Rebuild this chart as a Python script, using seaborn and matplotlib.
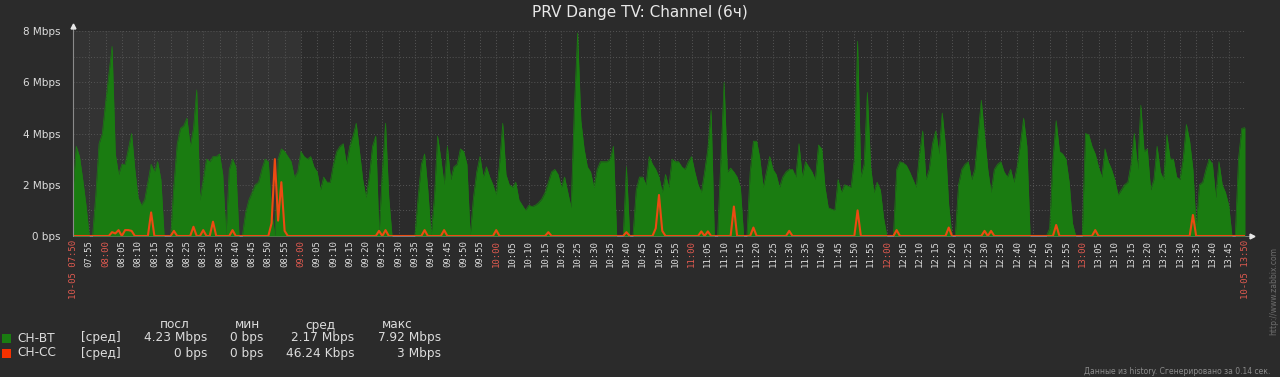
import numpy as np
import pandas as pd
import matplotlib.pyplot as plt
import seaborn as sns

# CH-BT, 1-minute values in Mbps from 07:50 to 13:50 (0 = no data)
bt_0750 = [1.8, 3.5, 3.1, 2.2, 1.2, 0, 0, 1.6, 3.6, 4.0,
           5.2, 6.3, 7.4, 3.2, 2.4, 2.8, 2.8, 3.4, 4.0, 2.6,
           1.5, 1.2, 1.4, 2.1, 2.8, 2.5, 2.9, 2.2, 0, 0,
           0, 2.0, 3.6, 4.2, 4.3, 4.6, 3.5, 4.2, 5.7, 1.4,
           2.2, 3.0, 2.9, 3.1, 3.1, 3.2, 2.4, 0, 2.6, 3.0,
           2.7, 0, 0, 0.9, 1.4, 1.7, 2.0, 2.1, 2.6, 3.0]
bt_0850 = [2.9, 1.0, 0, 3.0, 3.4, 3.3, 3.1, 2.9, 2.3, 2.5,
           3.3, 3.1, 3.0, 3.1, 2.7, 2.5, 1.8, 2.3, 2.1, 2.1,
           2.8, 3.3, 3.5, 3.6, 2.8, 3.5, 3.9, 4.4, 3.3, 2.2,
           1.5, 2.3, 3.5, 3.9, 0, 2.5, 4.4, 1.5, 0, 0,
           0, 0, 0, 0, 0, 0, 1.5, 2.8, 3.2, 1.8,
           0, 1.5, 3.9, 3.0, 2.0, 3.5, 2.2, 2.7, 2.8, 3.4]
bt_0950 = [3.3, 2.8, 0, 1.5, 2.5, 3.1, 2.3, 2.7, 2.3, 2.0,
           1.6, 2.8, 4.4, 2.4, 2.0, 1.9, 2.1, 1.4, 1.2, 1.0,
           1.2, 1.15, 1.2, 1.3, 1.45, 1.7, 2.1, 2.5, 2.6, 2.4,
           1.9, 2.3, 1.7, 1.1, 5.0, 7.92, 4.5, 3.4, 2.7, 2.5,
           1.9, 2.6, 2.9, 2.9, 2.9, 3.0, 3.5, 0, 0, 0,
           2.7, 0, 0, 1.8, 2.3, 2.3, 2.0, 3.1, 2.8, 2.6]
bt_1050 = [2.3, 1.7, 2.4, 1.9, 3.0, 2.9, 2.9, 2.7, 2.6, 2.9,
           3.1, 2.5, 2.0, 1.7, 2.5, 3.4, 4.9, 0, 0, 3.0,
           6.0, 2.5, 2.65, 2.5, 2.3, 1.9, 0, 0, 2.5, 3.7,
           3.7, 3.0, 1.9, 2.5, 3.1, 2.6, 2.4, 1.9, 2.3, 2.5,
           2.6, 2.6, 2.3, 3.6, 2.3, 2.9, 2.7, 2.5, 2.2, 3.55,
           3.4, 1.9, 1.1, 1.05, 1.0, 2.2, 1.7, 2.0, 1.95, 1.9]
bt_1150 = [3.0, 7.6, 2.3, 2.8, 5.6, 2.7, 1.7, 2.1, 1.8, 0.7,
           0, 0, 0, 2.6, 2.9, 2.85, 2.75, 2.5, 2.2, 1.9,
           3.2, 4.1, 2.2, 2.6, 3.6, 4.1, 3.2, 4.8, 3.5, 1.2,
           0, 0, 2.0, 2.6, 2.8, 2.9, 2.2, 2.6, 3.9, 5.3,
           3.9, 2.6, 1.7, 2.6, 2.8, 2.9, 2.5, 2.3, 2.6, 2.1,
           2.7, 3.6, 4.6, 3.5, 0, 0, 0, 0, 0, 0]
bt_1250 = [0.3, 3.0, 4.5, 3.3, 3.2, 3.0, 2.1, 0.5, 0, 0,
           0, 4.0, 3.95, 3.5, 3.2, 2.7, 2.3, 3.4, 2.9, 2.6,
           2.2, 1.6, 1.8, 2.0, 2.1, 2.8, 4.0, 2.6, 5.1, 3.3,
           3.4, 1.8, 2.2, 3.5, 2.5, 2.2, 3.95, 3.0, 3.0, 2.3,
           2.2, 3.0, 4.35, 3.7, 2.6, 0.3, 2.0, 2.1, 2.6, 3.0,
           2.8, 1.5, 2.9, 2.0, 1.7, 1.2, 0, 0, 3.0, 4.2,
           4.23]

# CH-CC is 0 except for these minutes (Mbps)
cc_minutes = [12, 13, 14, 16, 17, 18, 24, 31, 37, 40, 43, 49,
              61, 62, 63, 64, 65, 94, 96, 108, 114, 130, 146, 170,
              179, 180, 181, 193, 195, 203, 209, 220,
              241, 253, 269, 280, 282, 302, 314, 344]
cc_values = [0.15, 0.1, 0.23, 0.23, 0.23, 0.2, 0.92, 0.2, 0.36, 0.23, 0.56, 0.23,
             0.5, 3.0, 0.6, 2.1, 0.2, 0.2, 0.23, 0.23, 0.23, 0.23, 0.15, 0.15,
             0.3, 1.6, 0.2, 0.18, 0.18, 1.15, 0.33, 0.2,
             1.0, 0.23, 0.33, 0.2, 0.2, 0.43, 0.23, 0.82]

# legend table
legend_names = ['CH-BT', 'CH-CC']
legend_colors = ['#1a7c11', '#f63100']
stat_last = ['4.23 Mbps', '0 bps']
stat_min = ['0 bps', '0 bps']
stat_avg = ['2.17 Mbps', '46.24 Kbps']
stat_max = ['7.92 Mbps', '3 Mbps']

ch_bt = bt_0750 + bt_0850 + bt_0950 + bt_1050 + bt_1150 + bt_1250
minutes = np.arange(len(ch_bt))
ch_cc = np.zeros(len(ch_bt))
ch_cc[cc_minutes] = cc_values
df = pd.DataFrame({'minute': minutes, 'CH-BT': ch_bt, 'CH-CC': ch_cc})

times = pd.date_range('2016-10-05 07:50', '2016-10-05 13:50', freq='5min')
tick_pos = [(t - times[0]).seconds // 60 for t in times]
tick_labels = [t.strftime('%H:%M') for t in times]
tick_labels[0] = '10-05 ' + tick_labels[0]
tick_labels[-1] = '10-05 ' + tick_labels[-1]

bg = '#2b2b2b'
txt = '#dcdcdc'
red_txt = '#e05a50'
sns.set_style('dark', {'axes.facecolor': bg, 'figure.facecolor': bg})
plt.rcParams['font.family'] = ['DejaVu Sans']

W, H = 1280, 377
fig = plt.figure(figsize=(W / 100, H / 100), dpi=100)
ax = fig.add_axes([73 / W, 1 - 236 / H, (1245 - 73) / W, (236 - 31) / H])
ax.set_facecolor(bg)

def px(x, y):
    return x / W, 1 - y / H

# non-working period shading
ax.axvspan(0, 70, color='#333333', lw=0, zorder=0)

ax.fill_between(df['minute'], df['CH-BT'], color=legend_colors[0], lw=0, zorder=2)
sns.lineplot(data=df, x='minute', y='CH-BT', color=legend_colors[0], lw=0.5, ax=ax, zorder=2)
sns.lineplot(data=df, x='minute', y='CH-CC', color='#ec4a12', lw=1.5, ax=ax, zorder=3)

ax.set_xlim(0, 360)
ax.set_ylim(0, 8)
ax.set_xlabel('')
ax.set_ylabel('')

ax.set_xticks(tick_pos)
ax.set_xticklabels(tick_labels, rotation=90, fontsize=6.5, family='DejaVu Sans Mono', va='top')
for lab in ax.get_xticklabels():
    t = lab.get_text()
    lab.set_color(red_txt if (t.endswith(':00') or t.startswith('10-05')) else txt)
ax.set_yticks([0, 2, 4, 6, 8])
ax.set_yticklabels(['0 bps', '2 Mbps', '4 Mbps', '6 Mbps', '8 Mbps'], fontsize=7.5, color=txt)
ax.set_yticks([1, 3, 5, 7], minor=True)
ax.tick_params(axis='both', which='both', length=0)
ax.tick_params(axis='x', pad=3)
ax.tick_params(axis='y', pad=9)

ax.grid(True, which='both', color='#555555', lw=0.7, ls=(0, (1, 2)))
ax.set_axisbelow(True)
for s in ['top', 'right', 'bottom', 'left']:
    ax.spines[s].set_visible(False)

# axes with arrows
ax.plot([0, 0], [0, 8.15], color='#8a8a8a', lw=0.8, clip_on=False, zorder=4)
ax.plot([0, 361.5], [0, 0], color='#8a8a8a', lw=0.6, clip_on=False, zorder=1)
ax.plot([0], [8.2], marker='^', ms=3.5, color='#e8e8e8', clip_on=False, zorder=5)
ax.plot([362], [0], marker='>', ms=3.5, color='#e8e8e8', clip_on=False, zorder=5)

fig.text(*px(640, 13), 'PRV Dange TV: Channel (6ч)', ha='center', va='center',
         fontsize=11, color='#e8e8e8')

# legend table
fs = 8.7
fig.text(*px(175, 325), 'посл', ha='center', va='center', fontsize=fs, color=txt)
fig.text(*px(247, 325), 'мин', ha='center', va='center', fontsize=fs, color=txt)
fig.text(*px(320, 325), 'сред', ha='center', va='center', fontsize=fs, color=txt)
fig.text(*px(397, 325), 'макс', ha='center', va='center', fontsize=fs, color=txt)
for i, name in enumerate(legend_names):
    y = 338 + 15 * i
    fig.patches.append(plt.Rectangle(px(2, y + 4.5), 9 / W, 9 / H, transform=fig.transFigure,
                                     facecolor=legend_colors[i], lw=0))
    fig.text(*px(17, y), name, ha='left', va='center', fontsize=fs, color=txt)
    fig.text(*px(81, y), '[сред]', ha='left', va='center', fontsize=fs, color=txt)
    fig.text(*px(207, y), stat_last[i], ha='right', va='center', fontsize=fs, color=txt)
    fig.text(*px(263, y), stat_min[i], ha='right', va='center', fontsize=fs, color=txt)
    fig.text(*px(354, y), stat_avg[i], ha='right', va='center', fontsize=fs, color=txt)
    fig.text(*px(441, y), stat_max[i], ha='right', va='center', fontsize=fs, color=txt)

fig.text(*px(1270, 372), 'Данные из history. Сгенерировано за 0.14 сек.', ha='right', va='center',
         fontsize=5.5, color='#8c8c8c')
fig.text(*px(1274, 335), 'http://www.zabbix.com', rotation=90, ha='center', va='bottom',
         fontsize=5.5, color='#6e6e6e')

fig.savefig('out.png', dpi=100, facecolor=bg)
